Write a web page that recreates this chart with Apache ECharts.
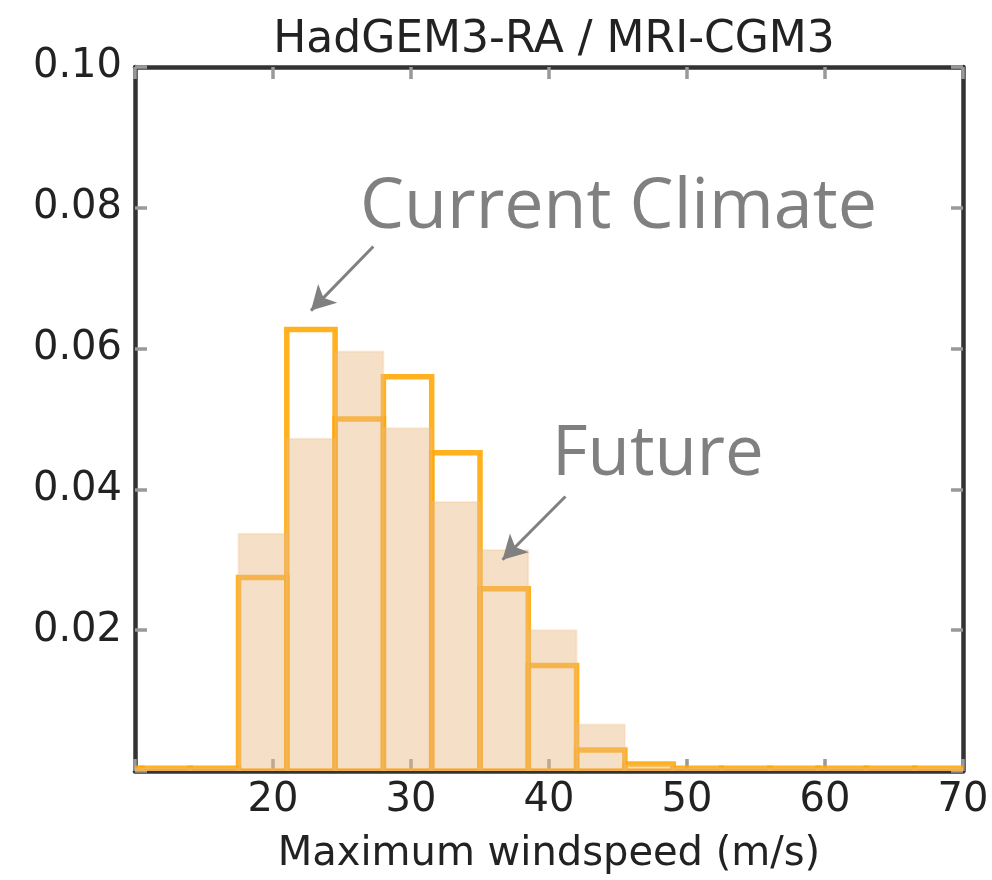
<!DOCTYPE html>
<html>
<head>
<meta charset="utf-8">
<script src="https://cdn.jsdelivr.net/npm/echarts@6/dist/echarts.min.js"></script>
<style>html,body{margin:0;padding:0;background:#fff}#c{width:992px;height:880px}</style>
</head>
<body>
<div id="c"></div>
<script>
// Histogram bin edges (m/s)
const binEdges = [7, 10.5, 14, 17.5, 21, 24.5, 28, 31.5, 35, 38.5, 42, 45.5, 49, 52.5, 56, 59.5, 63, 66.5, 70];
// Normalised frequency, current climate (outlined bars)
const currentClimate = [0.0004, 0.0004, 0.0004, 0.0275, 0.0627, 0.0500, 0.0560, 0.0452, 0.0259, 0.0150, 0.0030, 0.0010, 0.0004, 0.0004, 0.0004, 0.0004, 0.0004, 0.0004];
// Normalised frequency, future climate (filled bars)
const futureClimate = [0.0004, 0.0004, 0.0004, 0.0337, 0.0472, 0.0596, 0.0487, 0.0382, 0.0314, 0.0200, 0.0066, 0.0008, 0.0004, 0.0004, 0.0004, 0.0004, 0.0004, 0.0004];
const xTickLabels = [20, 30, 40, 50, 60, 70];
const yTickLabels = ['0.02', '0.04', '0.06', '0.08', '0.10'];
const titleText = 'HadGEM3-RA / MRI-CGM3';
const xName = 'Maximum windspeed (m/s)';
// annotation arrows [start, tip] in data coordinates
const arrowCurrent = [[27.27, 0.0745], [22.75, 0.0654]];
const arrowFuture = [[41.19, 0.0390], [36.63, 0.0300]];

function toRows(vals) {
  return vals.map((v, i) => [binEdges[i], binEdges[i + 1], v]);
}

const chart = echarts.init(document.getElementById('c'), null, {renderer: 'canvas'});

const axisFont = 'DejaVu Sans';
const spine = {show: true, onZero: false, lineStyle: {color: '#333', width: 4.5}};
const tick = {show: true, inside: true, length: 12, lineStyle: {color: '#999', width: 3.5}};

const option = {
  backgroundColor: '#fff',
  animation: false,
  title: {
    text: titleText, left: 549, top: 14, textAlign: 'center',
    textStyle: {fontFamily: axisFont, fontSize: 44, fontWeight: 'normal', color: '#222'}
  },
  grid: {left: 135, right: 29, top: 67, bottom: 107, containLabel: false},
  xAxis: [{
    type: 'value', min: 10, max: 70, interval: 10, position: 'bottom',
    axisLine: spine, axisTick: tick, splitLine: {show: false},
    axisLabel: {
      fontFamily: axisFont, fontSize: 40, color: '#222', margin: 10,
      formatter: v => xTickLabels.indexOf(v) >= 0 ? String(v) : ''
    },
    name: xName, nameLocation: 'middle', nameGap: 64,
    nameTextStyle: {fontFamily: axisFont, fontSize: 40, color: '#222'}
  }, {
    type: 'value', min: 10, max: 70, interval: 10, position: 'top',
    axisLine: spine, axisTick: tick, splitLine: {show: false}, axisLabel: {show: false}
  }],
  yAxis: [{
    type: 'value', min: 0, max: 0.1, interval: 0.02, position: 'left',
    axisLine: spine, axisTick: tick, splitLine: {show: false},
    axisLabel: {
      fontFamily: axisFont, fontSize: 40, color: '#222', margin: 13,
      formatter: v => { const s = v.toFixed(2); return yTickLabels.indexOf(s) >= 0 ? s : ''; }
    }
  }, {
    type: 'value', min: 0, max: 0.1, interval: 0.02, position: 'right',
    axisLine: spine, axisTick: tick, splitLine: {show: false}, axisLabel: {show: false}
  }],
  series: [{
    name: 'Current Climate', type: 'custom', xAxisIndex: 0, yAxisIndex: 0, clip: true, z: 2,
    data: toRows(currentClimate),
    renderItem: function (params, api) {
      const p0 = api.coord([api.value(0), api.value(2)]);
      const p1 = api.coord([api.value(1), 0]);
      return {type: 'rect', shape: {x: p0[0], y: p0[1], width: p1[0] - p0[0], height: p1[1] - p0[1]},
        style: {fill: 'none', stroke: 'rgba(255,166,0,0.88)', lineWidth: 5.5}};
    }
  }, {
    name: 'Future', type: 'custom', xAxisIndex: 0, yAxisIndex: 0, clip: true, z: 3,
    data: toRows(futureClimate),
    renderItem: function (params, api) {
      const p0 = api.coord([api.value(0), api.value(2)]);
      const p1 = api.coord([api.value(1), 0]);
      return {type: 'rect', shape: {x: p0[0], y: p0[1], width: p1[0] - p0[0], height: p1[1] - p0[1]},
        style: {fill: 'rgba(235,185,130,0.45)', stroke: 'rgba(240,190,130,0.25)', lineWidth: 2}};
    }
  }, {
    name: 'arrows', type: 'line', xAxisIndex: 0, yAxisIndex: 0, data: [], z: 5,
    markLine: {
      silent: true, animation: false,
      symbol: ['none', 'arrow'], symbolSize: [20, 24],
      label: {show: false},
      lineStyle: {color: '#808080', width: 3, type: 'solid'},
      emphasis: {disabled: true},
      data: [
        [{coord: arrowCurrent[0]}, {coord: arrowCurrent[1]}],
        [{coord: arrowFuture[0]}, {coord: arrowFuture[1]}]
      ]
    }
  }],
  graphic: [
    {type: 'text', left: 360, top: 173, z: 10,
      style: {text: 'Current Climate', font: '70px "Open Sans"', fill: '#808080'}},
    {type: 'text', left: 552, top: 421, z: 10,
      style: {text: 'Future', font: '69px "Open Sans"', fill: '#808080'}}
  ]
};
chart.setOption(option);
</script>
</body>
</html>
